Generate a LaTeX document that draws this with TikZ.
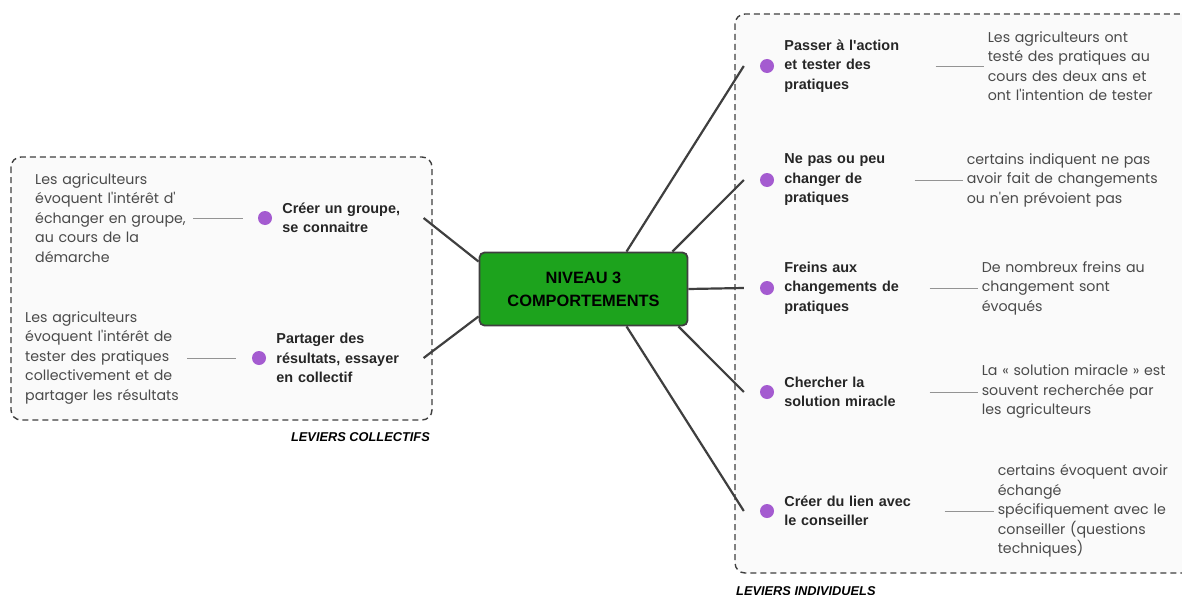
\documentclass[tikz,border=0pt]{standalone}
\usepackage{fontspec}
\setmainfont{Liberation Sans}
\newfontfamily\notefont{Poppins}
\usepackage{xcolor}
\usetikzlibrary{positioning}
\definecolor{leafgreen}{HTML}{1DA31D}
\definecolor{bulletpurple}{HTML}{A45BD0}
\definecolor{linegray}{HTML}{3F3F3F}
\definecolor{notegray}{HTML}{4A4A4A}

\begin{document}
\begin{tikzpicture}[
    x=1pt, y=-1pt,
    central/.style={draw=linegray, line width=1.8pt, fill=leafgreen, rounded corners=5pt, minimum width=208pt, minimum height=73pt, align=center, font=\fontsize{16.4}{23}\selectfont\bfseries},
    groupbox/.style={draw=linegray, dash pattern=on 6pt off 4pt, line width=1.4pt, rounded corners=10pt, fill=black!2},
    branch/.style={draw=linegray, line width=2.2pt},
    bullet/.style={circle, fill=bulletpurple, minimum size=14pt, inner sep=0pt},
    lever/.style={inner sep=0pt, align=left, text=black!85, font=\fontsize{14.4}{19.5}\selectfont\bfseries},
    note/.style={inner sep=0pt, align=left, text=notegray, font=\notefont\fontsize{14.2}{19.5}\selectfont},
    notelink/.style={draw=gray!85, line width=1pt},
    grouplabel/.style={inner sep=0pt, font=\fontsize{12.8}{15}\selectfont\bfseries\itshape}
]
\useasboundingbox (0,0) rectangle (1182,594);

% group frames
\draw[groupbox] (11,157) rectangle (432,420);
\draw[groupbox] (735,14) rectangle (1200,573);
\node[grouplabel, anchor=base east] (collab) at (430,441) {LEVIERS COLLECTIFS};
\node[grouplabel, anchor=base west] (indlab) at (736,595) {LEVIERS INDIVIDUELS};

\node[central] (C) at (583.5,289) {NIVEAU 3\\COMPORTEMENTS};

% leviers collectifs
\node[bullet] (l1dot) at (265,218) {};
\node[bullet] (l2dot) at (259,358) {};
\node[lever, right=10pt of l1dot, text width=141pt] (l1) {Créer un groupe,\\se connaitre};
\node[lever, right=10pt of l2dot, text width=147pt] (l2) {Partager des\\résultats, essayer\\en collectif};
\node[note, anchor=west, text width=158pt] (n1) at (35,218) {Les agriculteurs\\évoquent l'intérêt d'\\échanger en groupe,\\au cours de la\\démarche};
\node[note, anchor=west, text width=162pt] (n2) at (25,358) {Les agriculteurs\\évoquent l'intérêt de\\tester des pratiques\\collectivement et de\\partager les résultats};

% leviers individuels
\node[bullet] (r1dot) at (767,66) {};
\node[bullet] (r2dot) at (767,180) {};
\node[bullet] (r3dot) at (767,288) {};
\node[bullet] (r4dot) at (767,392) {};
\node[bullet] (r5dot) at (767,511) {};
\node[lever, right=10pt of r1dot, text width=151pt] (r1) {Passer à l\textquotesingle action\\et tester des\\pratiques};
\node[lever, right=10pt of r2dot, text width=130pt] (r2) {Ne pas ou peu\\changer de\\pratiques};
\node[lever, right=10pt of r3dot, text width=145pt] (r3) {Freins aux\\changements de\\pratiques};
\node[lever, right=10pt of r4dot, text width=145pt] (r4) {Chercher la\\solution miracle};
\node[lever, right=10pt of r5dot, text width=160pt] (r5) {Créer du lien avec\\le conseiller};
\node[note, right=52pt of r1, text width=200pt] (m1) {Les agriculteurs ont\\testé des pratiques au\\cours des deux ans et\\ont l'intention de tester};
\node[note, right=52pt of r2, text width=210pt] (m2) {certains indiquent ne pas\\avoir fait de changements\\ou n'en prévoient pas};
\node[note, right=52pt of r3, text width=200pt] (m3) {De nombreux freins au\\changement sont\\évoqués};
\node[note, right=52pt of r4, text width=200pt] (m4) {La « solution miracle » est\\souvent recherchée par\\les agriculteurs};
\node[note, right=53pt of r5, text width=190pt] (m5) {certains évoquent avoir\\échangé\\spécifiquement avec le\\conseiller (questions\\techniques)};

% branches
\draw[branch] ([yshift=-10pt]C.north west) -- (l1.east);
\draw[branch] ([yshift=10pt]C.south west) -- (l2.east);
\draw[branch] ([xshift=43pt]C.north) -- ([xshift=-16pt]r1dot.west);
\draw[branch] ([xshift=-16pt]C.north east) -- ([xshift=-16pt]r2dot.west);
\draw[branch] (C.east) -- ([xshift=-16pt]r3dot.west);
\draw[branch] ([xshift=-10pt]C.south east) -- ([xshift=-16pt]r4dot.west);
\draw[branch] ([xshift=43pt]C.south) -- ([xshift=-16pt]r5dot.west);

% note links
\draw[notelink, shorten >=15pt] (n1.east) -- (l1dot.west);
\draw[notelink, shorten >=16pt] (n2.east) -- (l2dot.west);
\foreach \i in {1,...,5}
  \draw[notelink, shorten >=4pt] (r\i.east) -- (m\i.west);
\end{tikzpicture}
\end{document}
